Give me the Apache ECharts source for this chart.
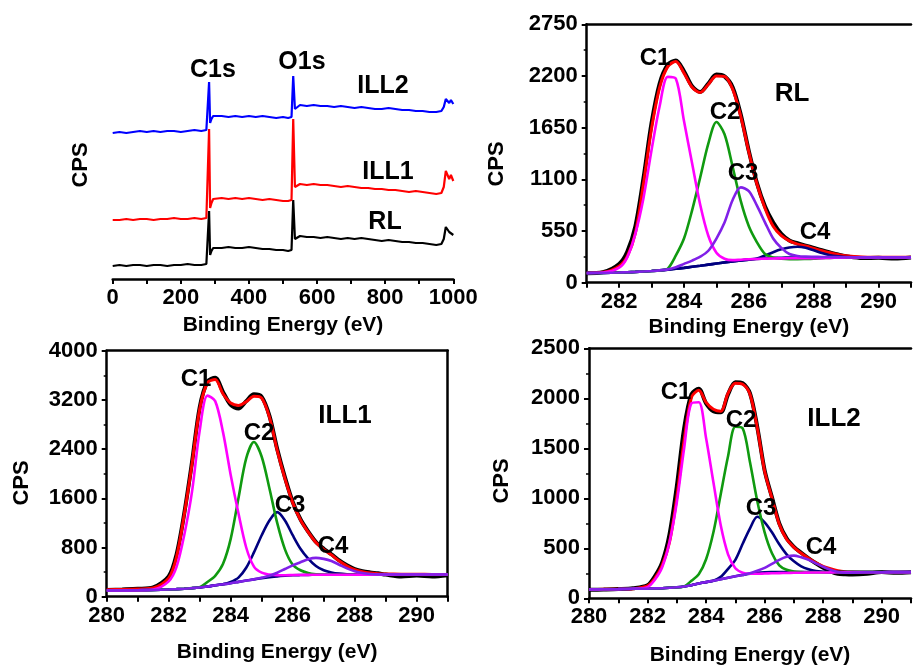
<!DOCTYPE html>
<html lang="en">
<head>
<meta charset="UTF-8">
<title>XPS survey and C1s fits</title>
<script src="https://cdn.jsdelivr.net/npm/echarts@6/dist/echarts.min.js"></script>
<style>
  html, body { margin: 0; padding: 0; background: #fff; overflow: hidden; }
  #main { width: 914px; height: 668px; }
</style>
</head>
<body>
<div id="main"></div>
<script>
// ---- survey spectra (y is an arbitrary offset scale, no axis shown)
var surveyE = [0,20,40,60,80,100,120,140,160,180,200,220,240,260,275,280,283,286,290,295,300,320,340,360,380,400,420,440,460,480,500,515,525,530,535,540,550,570,590,610,630,650,670,690,710,730,750,770,790,810,830,850,870,890,910,930,950,965,972,978,983,988,993,1000];
var surveyILL2 = [146,147,146,147,148,147,148,147,148,148,147,148,149,148,149,150,197,156,160,163,162,163,162,163,162,163,162,163,162,161,162,161,162,203,170,172,174,173,174,173,173,172,173,172,171,172,171,170,170,171,170,169,169,168,168,167,167,168,172,180,182,176,179,175];
var surveyILL1 = [59,59,60,59,60,60,59,60,60,61,60,60,61,60,61,62,150,71,76,80,79,81,80,81,80,81,80,79,80,79,78,78,79,160,92,91,95,94,95,94,94,93,92,93,92,91,91,90,90,89,89,88,87,88,87,86,85,86,92,108,110,100,104,98];
var surveyRL = [13,14,13,14,14,13,14,14,13,14,14,15,14,14,15,16,68,24,28,31,30,31,32,31,31,32,31,30,30,29,29,28,29,79,40,41,43,42,42,41,42,41,40,41,40,41,40,39,38,39,38,37,37,36,36,35,34,35,40,52,54,47,49,44];

// ---- RL C1s fit
var rlE = [281,281.5,282,282.25,282.5,282.75,283,283.25,283.5,283.75,284,284.25,284.5,284.75,285,285.25,285.5,285.75,286,286.25,286.5,286.75,287,287.25,287.5,287.75,288,288.25,288.5,288.75,289,289.5,290,290.5,291];
var rlRaw  = [100,112,200,330,600,1110,1700,2120,2320,2365,2250,2090,2030,2120,2215,2195,2080,1790,1400,1060,810,640,520,450,420,395,370,345,322,300,282,262,265,258,268];
var rlFit  = [104,110,175,280,526,1050,1640,2080,2300,2355,2230,2080,2025,2110,2200,2195,2060,1770,1390,1050,790,600,500,445,410,390,365,340,318,300,286,274,271,270,270];
var rlC1   = [104,108,160,270,520,900,1412,1880,2190,2170,1720,1270,830,500,320,255,240,245,250,253,256,258,259,260,260,260,260,262,264,266,268,270,270,270,270];
var rlC2   = [102,104,108,111,115,120,125,131,150,290,470,770,1120,1480,1710,1580,1234,870,600,430,305,268,255,250,250,252,255,260,264,267,269,270,270,270,270];
var rlC3   = [102,104,108,111,115,120,125,131,142,165,200,235,277,340,470,640,880,1015,975,820,640,470,370,305,285,277,275,274,273,272,271,270,270,270,270];
var rlC4   = [102,104,108,111,115,120,125,131,139,148,158,169,180,192,204,216,227,237,246,258,290,325,355,375,383,372,345,315,292,280,273,270,270,270,270];
var rlBase = [102,104,108,111,115,120,125,131,139,148,158,169,180,192,204,216,227,237,246,253,259,263,266,268,269,270,270,270,270,270,270,270,270,270,270];

// ---- ILL1 and ILL2 C1s fits share one energy grid
var illE = [280,280.5,281,281.5,282,282.25,282.5,282.75,283,283.25,283.5,283.75,284,284.25,284.5,284.75,285,285.25,285.5,285.75,286,286.25,286.5,286.75,287,287.25,287.5,287.75,288,288.25,288.5,288.75,289,289.5,290,290.5,291];

var ill1Raw  = [110,118,128,150,330,680,1350,2180,3080,3500,3560,3330,3120,3060,3180,3290,3250,2940,2400,1940,1540,1260,1060,890,780,690,590,510,450,415,395,380,360,330,345,330,350];
var ill1Fit  = [115,118,125,140,300,640,1330,2150,3050,3480,3530,3300,3150,3110,3170,3260,3230,2920,2380,1920,1530,1250,1050,880,770,680,580,500,440,405,385,375,370,366,364,363,363];
var ill1C1   = [100,102,106,118,250,480,1000,1700,2700,3270,3180,2680,1980,1356,800,490,390,360,350,350,352,354,355,357,358,358,358,358,358,359,359,359,359,360,360,360,360];
var ill1C2   = [100,102,105,110,118,123,130,139,155,240,340,530,940,1600,2250,2515,2276,1760,1200,770,520,430,385,365,358,358,358,358,358,359,359,359,359,360,360,360,360];
var ill1C3   = [100,102,105,110,118,123,130,139,150,166,185,202,240,310,470,720,1000,1240,1375,1240,1000,780,620,500,430,395,375,365,360,359,359,359,359,360,360,360,360];
var ill1C4   = [100,102,105,110,118,123,130,139,150,166,185,202,220,241,262,282,310,340,390,450,510,560,610,632,615,580,520,460,415,385,370,362,360,360,360,360,360];
var ill1Base = [100,102,105,110,118,123,130,139,150,166,185,202,220,241,262,282,300,316,330,340,348,352,355,357,358,358,358,358,358,359,359,359,359,360,360,360,360];

var ill2Raw  = [85,88,92,100,130,220,360,640,1120,1700,2040,2095,1950,1870,1860,2040,2160,2150,2050,1710,1280,1010,750,600,515,455,400,350,305,270,245,240,238,245,262,255,260];
var ill2Fit  = [88,90,92,96,125,200,330,560,1010,1580,2010,2080,1960,1890,1870,2050,2150,2140,2040,1700,1270,1000,740,590,510,450,400,355,320,295,275,265,262,260,260,258,258];
var ill2C1   = [88,90,92,95,112,185,310,560,960,1500,1950,1960,1600,1160,730,440,300,255,245,245,248,250,252,253,255,256,257,258,258,259,260,260,260,261,261,262,262];
var ill2C2   = [88,90,92,95,97,99,101,105,110,118,175,240,390,660,1040,1420,1715,1700,1360,970,660,450,330,285,268,262,260,260,260,261,261,262,262,262,262,262,262];
var ill2C3   = [88,90,92,95,97,99,101,105,110,118,130,148,162,176,215,295,385,545,700,815,760,660,540,440,370,320,290,272,265,262,262,262,262,262,262,262,262];
var ill2C4   = [88,90,92,95,97,99,101,105,110,118,130,148,162,176,190,205,220,234,250,275,305,345,385,415,427,410,385,350,315,285,262,255,257,260,261,262,262];
var ill2Base = [88,90,92,95,97,99,101,105,110,118,130,148,162,176,190,205,220,234,247,255,260,262,263,263,263,263,263,263,262,262,262,262,262,262,262,262,262];

var FONT = '"Liberation Sans", Arial, Helvetica, sans-serif';
var MAGENTA = '#ff00ff', GREEN = '#109a10', NAVY = '#00007f', VIOLET = '#8020e8';
var chart = echarts.init(document.getElementById('main'));

function pairs(xs, ys) {
    return xs.map(function (x, i) { return [x, ys[i]]; });
}

function line(ax, xs, ys, color, width, smooth) {
    return {
        type: 'line', xAxisIndex: ax, yAxisIndex: ax,
        data: pairs(xs, ys),
        symbol: 'none', showSymbol: false, silent: true,
        smooth: smooth ? 0.3 : false,
        lineStyle: { color: color, width: width },
        emphasis: { disabled: true }
    };
}

function label(text, x, y, size, rot) {
    return {
        type: 'text', x: x, y: y, z: 100, rotation: rot || 0,
        style: {
            text: text, fill: '#000',
            font: 'bold ' + size + 'px ' + FONT,
            textAlign: 'center', align: 'center',
            textVerticalAlign: 'middle', verticalAlign: 'middle'
        }
    };
}

var axisFont = { fontFamily: FONT, fontWeight: 'bold', fontSize: 22, color: '#000' };
var nameFont = { fontFamily: FONT, fontWeight: 'bold', fontSize: 21, color: '#000' };

function xAxis(grid, min, max, step, labelStep, gap) {
    return {
        type: 'value', gridIndex: grid, min: min, max: max, interval: step,
        name: 'Binding Energy (eV)', nameLocation: 'middle', nameGap: gap,
        nameTextStyle: nameFont,
        axisLine: { lineStyle: { color: '#000', width: 2.5 } },
        axisTick: { show: true, length: 5, lineStyle: { color: '#000', width: 2 } },
        axisLabel: Object.assign({
            margin: 8,
            showMaxLabel: true,
            formatter: function (v) { return (Math.round(v) % labelStep === 0) ? String(Math.round(v)) : ''; }
        }, axisFont),
        splitLine: { show: false }
    };
}

function yAxis(grid, max, step) {
    return {
        type: 'value', gridIndex: grid, min: 0, max: max, interval: step,
        axisLine: { show: true, lineStyle: { color: '#000', width: 2.5 } },
        axisTick: { show: true, length: 5, lineStyle: { color: '#000', width: 2 } },
        minorTick: { show: true, splitNumber: 2, length: 3, lineStyle: { color: '#000', width: 1.5 } },
        axisLabel: Object.assign({ margin: 9, formatter: function (v) { return String(v); } }, axisFont),
        splitLine: { show: false }
    };
}

// plain lines closing the box on top and right
function edgeX(grid) {
    return {
        type: 'value', gridIndex: grid, position: 'top', min: 0, max: 1,
        axisLine: { show: true, onZero: false, lineStyle: { color: '#000', width: 2.5 } },
        axisTick: { show: false }, axisLabel: { show: false }, splitLine: { show: false }
    };
}
function edgeY(grid) {
    return {
        type: 'value', gridIndex: grid, position: 'right', min: 0, max: 1,
        axisLine: { show: true, onZero: false, lineStyle: { color: '#000', width: 2.5 } },
        axisTick: { show: false }, axisLabel: { show: false }, splitLine: { show: false }
    };
}

var option = {
    animation: false,
    backgroundColor: '#fff',
    grid: [
        { left: 112.7, top: 59, width: 340.6, height: 220 },
        { left: 586.7, top: 24.3, width: 333.3, height: 258.4 },
        { left: 106.7, top: 350.7, width: 341, height: 246 },
        { left: 589, top: 348.3, width: 333, height: 250 }
    ],
    xAxis: [
        xAxis(0, 0, 1000, 100, 200, 36),
        xAxis(1, 281, 291, 1, 2, 34),
        xAxis(2, 280, 291, 1, 2, 45),
        xAxis(3, 280, 291, 1, 2, 46),
        edgeX(1), edgeX(2), edgeX(3)
    ],
    yAxis: [
        { type: 'value', gridIndex: 0, min: 0, max: 220, show: false },
        yAxis(1, 2750, 550),
        yAxis(2, 4000, 800),
        yAxis(3, 2500, 500),
        edgeY(2)
    ],
    graphic: [
        label('C1s', 213, 70, 25), label('O1s', 302, 62, 25),
        label('ILL2', 383, 86, 25), label('ILL1', 388, 172, 25), label('RL', 385, 222, 25),
        label('CPS', 81, 165, 22, Math.PI / 2),
        label('CPS', 497, 164, 22, Math.PI / 2),
        label('CPS', 22, 483, 22, Math.PI / 2),
        label('CPS', 502, 481, 22, Math.PI / 2),
        label('RL', 792, 94, 26), label('ILL1', 345, 416, 26), label('ILL2', 834, 419, 26),
        label('C1', 655, 58, 24), label('C2', 725, 112, 24), label('C3', 743, 173, 24), label('C4', 815, 232, 24),
        label('C1', 196, 379, 24), label('C2', 259, 433, 24), label('C3', 290, 505, 24), label('C4', 333, 546, 24),
        label('C1', 676, 392, 24), label('C2', 741, 420, 24), label('C3', 761, 508, 24), label('C4', 821, 547, 24)
    ],
    series: [
        line(0, surveyE, surveyRL, '#000000', 2.2, false),
        line(0, surveyE, surveyILL1, '#ff0000', 2.2, false),
        line(0, surveyE, surveyILL2, '#0000ff', 2.2, false),

        line(1, rlE, rlRaw, '#000000', 4, true),
        line(1, rlE, rlFit, '#ff0000', 3, true),
        line(1, rlE, rlBase, NAVY, 2.6, true),
        line(1, rlE, rlC4, NAVY, 2.6, true),
        line(1, rlE, rlC2, GREEN, 2.6, true),
        line(1, rlE, rlC1, MAGENTA, 2.6, true),
        line(1, rlE, rlC3, VIOLET, 2.6, true),

        line(2, illE, ill1Raw, '#000000', 4, true),
        line(2, illE, ill1Fit, '#ff0000', 3, true),
        line(2, illE, ill1Base, NAVY, 2.6, true),
        line(2, illE, ill1C3, NAVY, 2.6, true),
        line(2, illE, ill1C2, GREEN, 2.6, true),
        line(2, illE, ill1C1, MAGENTA, 2.6, true),
        line(2, illE, ill1C4, VIOLET, 2.6, true),

        line(3, illE, ill2Raw, '#000000', 4, true),
        line(3, illE, ill2Fit, '#ff0000', 3, true),
        line(3, illE, ill2Base, NAVY, 2.6, true),
        line(3, illE, ill2C3, NAVY, 2.6, true),
        line(3, illE, ill2C2, GREEN, 2.6, true),
        line(3, illE, ill2C1, MAGENTA, 2.6, true),
        line(3, illE, ill2C4, VIOLET, 2.6, true)
    ]
};
chart.setOption(option);
</script>
</body>
</html>
